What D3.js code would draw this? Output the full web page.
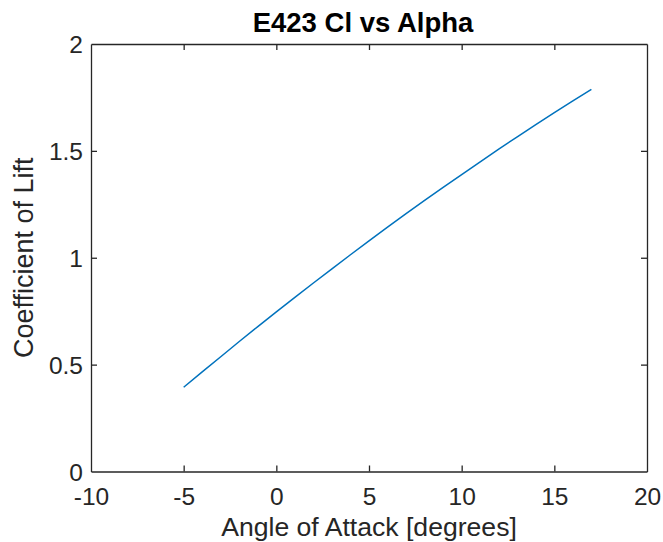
<!DOCTYPE html>
<html>
<head>
<meta charset="utf-8">
<script src="https://cdn.jsdelivr.net/npm/d3@7"></script>
<style>
  html, body { margin: 0; padding: 0; background: #fff; }
  svg { display: block; font-family: "Liberation Sans", Arial, Helvetica, sans-serif; }
</style>
</head>
<body>
<svg id="chart" width="663" height="542"></svg>
<script>
// E423 lift curve: angle of attack (deg) and lift coefficient
const alpha = [-5, -4, -3, -2, -1, 0, 1, 2, 3, 4, 5, 6, 7, 8, 9, 10, 11, 12, 13, 14, 15, 16, 17];
const cl = [0.394, 0.466, 0.537, 0.608, 0.678, 0.747, 0.815, 0.882, 0.948, 1.014, 1.079, 1.143, 1.206, 1.268, 1.329, 1.389, 1.449, 1.508, 1.566, 1.623, 1.679, 1.734, 1.788];

const xTicks = [-10, -5, 0, 5, 10, 15, 20];
const yTicks = [0, 0.5, 1, 1.5, 2];

const titleText = "E423 Cl vs Alpha";
const xLabelText = "Angle of Attack [degrees]";
const yLabelText = "Coefficient of Lift";

const svg = d3.select("#chart");
const m = { left: 91, right: 647, top: 44, bottom: 471.5 };
const axisColor = "#262626";
const tickLen = 6;

const x = d3.scaleLinear().domain([-10, 20]).range([m.left, m.right]);
const y = d3.scaleLinear().domain([0, 2]).range([m.bottom, m.top]);

// data line
const line = d3.line().x((d, i) => x(alpha[i])).y(d => y(d));
svg.append("path")
  .datum(cl)
  .attr("d", line)
  .attr("fill", "none")
  .attr("stroke", "#0072BD")
  .attr("stroke-width", 1.5)
  .attr("stroke-linejoin", "round");

// plain hyphen-minus labels
const fmt = d => String(d);

// axes with inward ticks on all four sides (box on)
const gBottom = svg.append("g").attr("transform", `translate(0,${m.bottom})`)
  .call(d3.axisBottom(x).tickValues(xTicks).tickSizeInner(-tickLen).tickSizeOuter(0).tickPadding(16).tickFormat(fmt));
const gTop = svg.append("g").attr("transform", `translate(0,${m.top})`)
  .call(d3.axisTop(x).tickValues(xTicks).tickSizeInner(-tickLen).tickSizeOuter(0).tickFormat(""));
const gLeft = svg.append("g").attr("transform", `translate(${m.left},0)`)
  .call(d3.axisLeft(y).tickValues(yTicks).tickSizeInner(-tickLen).tickSizeOuter(0).tickPadding(8).tickFormat(fmt));
const gRight = svg.append("g").attr("transform", `translate(${m.right},0)`)
  .call(d3.axisRight(y).tickValues(yTicks).tickSizeInner(-tickLen).tickSizeOuter(0).tickFormat(""));

[gBottom, gTop, gLeft, gRight].forEach(g => {
  g.select(".domain").attr("stroke", axisColor).attr("stroke-width", 1.3);
  g.selectAll(".tick line").attr("stroke", axisColor).attr("stroke-width", 1.3);
  g.selectAll(".tick text")
    .attr("fill", axisColor)
    .attr("font-size", 24.5)
    .attr("font-family", "'Liberation Sans', Arial, sans-serif");
});
// end ticks coincide with the box edges
gBottom.selectAll(".tick line").filter(d => d === -10 || d === 20).remove();
gTop.selectAll(".tick line").filter(d => d === -10 || d === 20).remove();
gLeft.selectAll(".tick line").filter(d => d === 0 || d === 2).remove();
gRight.selectAll(".tick line").filter(d => d === 0 || d === 2).remove();

gBottom.selectAll(".tick text").attr("dy", "0.71em");
gLeft.selectAll(".tick text").attr("dy", "0.36em");

// title and axis labels
svg.append("text")
  .attr("x", (m.left + m.right) / 2 - 6)
  .attr("y", 32)
  .attr("text-anchor", "middle")
  .attr("font-weight", "bold")
  .attr("font-size", 27.5)
  .attr("fill", "#000")
  .text(titleText);

svg.append("text")
  .attr("x", (m.left + m.right) / 2)
  .attr("y", 536)
  .attr("text-anchor", "middle")
  .attr("font-size", 26.6)
  .attr("fill", axisColor)
  .text(xLabelText);

svg.append("text")
  .attr("transform", `translate(33,${(m.top + m.bottom) / 2}) rotate(-90)`)
  .attr("text-anchor", "middle")
  .attr("font-size", 27)
  .attr("fill", axisColor)
  .text(yLabelText);
</script>
</body>
</html>
